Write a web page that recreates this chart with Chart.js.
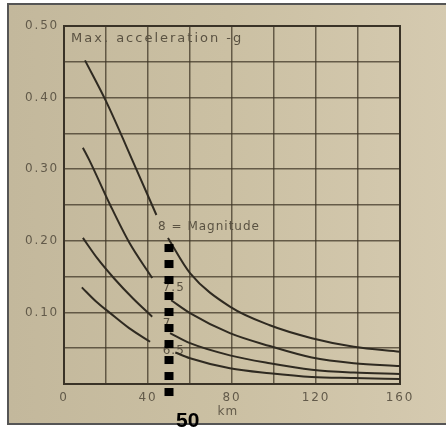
<!DOCTYPE html>
<html>
<head>
<meta charset="utf-8">
<script src="https://cdn.jsdelivr.net/npm/chart.js@4.4.1/dist/chart.umd.min.js"></script>
<style>
  body { margin: 0; background: #fff; }
  #frame {
    position: absolute; left: 7px; top: 3px; width: 439px; height: 418px;
    border: 2px solid #555; border-right: none;
    background: linear-gradient(90deg, #c3b89c 0%, #cbc0a3 50%, #d5cab0 100%);
  }
  #resultChart { position: absolute; left: 0; top: 0; }
</style>
</head>
<body>
<div id="frame"></div>
<canvas id="resultChart" width="446" height="432"></canvas>
<script>
// distance (km) and max acceleration (g); null = gap for the label
var kmM8 = [10, 20, 34, 44, 47, 49.5, 60, 79, 98, 118, 138, 160];
var gM8 = [0.452, 0.395, 0.303, 0.236, null, 0.204, 0.155, 0.108, 0.082, 0.064, 0.052, 0.045];

var kmM75 = [9, 12, 22, 31, 42, 46, 51, 60, 79, 98, 118, 138, 160];
var gM75 = [0.33, 0.313, 0.25, 0.198, 0.148, null, 0.117, 0.099, 0.071, 0.053, 0.037, 0.029, 0.025];

var kmM7 = [9, 16, 24, 33, 42, 46, 50.5, 60, 79, 98, 118, 138, 160];
var gM7 = [0.204, 0.175, 0.147, 0.119, 0.094, null, 0.071, 0.057, 0.04, 0.029, 0.02, 0.016, 0.014];

var kmM65 = [8.5, 15, 22, 31, 41, 47, 53, 60, 79, 98, 118, 138, 160];
var gM65 = [0.135, 0.116, 0.099, 0.078, 0.059, null, 0.044, 0.036, 0.022, 0.015, 0.0098, 0.0084, 0.007];

var curveLabels = ["8 = Magnitude", "7.5", "7", "6.5"];
var labelKm = [44.8, 47, 47, 47];
var labelG = [0.219, 0.134, 0.084, 0.046];

// highlighted distance
var markerKm = 50;
var markerG = [0.1955, -0.017];

var xTickLabels = ["0", "40", "80", "120", "160"];
var yTickLabels = ["0.10", "0.20", "0.30", "0.40", "0.50"];

function toPoints(xs, ys) {
    return xs.map(function (x, i) { return { x: x, y: ys[i] }; });
}

var ink = "#2f2a21";
var textGrey = "#625a4a";
var gridColor = "rgba(60, 50, 35, 0.72)";

function curve(xs, ys) {
    return {
        data: toPoints(xs, ys),
        borderColor: ink,
        borderWidth: 2,
        pointRadius: 0,
        fill: false,
        spanGaps: false,
        cubicInterpolationMode: "monotone"
    };
}

var paperPlugin = {
    id: "paper",
    beforeDraw: function (chart) {
        chart.ctx.letterSpacing = "1.8px";
    },
    beforeDatasetsDraw: function (chart) {
        var ctx = chart.ctx, a = chart.chartArea;
        var xs = chart.scales.x, ys = chart.scales.y;
        ctx.save();
        // plot frame
        ctx.strokeStyle = "#3a3327";
        ctx.lineWidth = 2;
        ctx.strokeRect(a.left, a.top, a.right - a.left, a.bottom - a.top);
        // title
        ctx.fillStyle = "#5a5242";
        ctx.font = "13px 'DejaVu Sans'";
        ctx.letterSpacing = "2px";
        ctx.textBaseline = "middle";
        ctx.textAlign = "left";
        ctx.fillText("Max. acceleration -g", a.left + 7, a.top + 13);
        // magnitude labels
        ctx.font = "12px 'DejaVu Sans'";
        ctx.letterSpacing = "1px";
        for (var i = 0; i < curveLabels.length; i++) {
            ctx.fillText(curveLabels[i], xs.getPixelForValue(labelKm[i]), ys.getPixelForValue(labelG[i]));
        }
        // axis unit
        ctx.fillStyle = textGrey;
        ctx.font = "12px 'DejaVu Sans'";
        ctx.textAlign = "center";
        ctx.fillText("km", xs.getPixelForValue(78), a.bottom + 28);
        // marker value
        ctx.letterSpacing = "0px";
        ctx.fillStyle = "#000";
        ctx.font = "bold 21px 'Liberation Sans', Arial";
        ctx.textAlign = "left";
        ctx.fillText(String(markerKm), xs.getPixelForValue(markerKm) + 7, a.bottom + 37);
        ctx.restore();
    }
};

var ctx = document.getElementById("resultChart").getContext("2d");

var resultChart = new Chart(ctx, {
    type: "line",
    data: {
        datasets: [
            {
                data: toPoints([markerKm, markerKm], markerG),
                borderColor: "#000",
                borderWidth: 9,
                borderDash: [8, 8],
                pointRadius: 0,
                clip: false
            },
            curve(kmM8, gM8),
            curve(kmM75, gM75),
            curve(kmM7, gM7),
            curve(kmM65, gM65)
        ]
    },
    options: {
        responsive: false,
        animation: false,
        layout: { padding: { top: 26, right: 46, left: 0, bottom: 0 } },
        plugins: {
            legend: { display: false },
            tooltip: { enabled: false }
        },
        scales: {
            x: {
                type: "linear",
                min: 0,
                max: 160,
                afterFit: function (scale) { scale.height = 48; },
                ticks: {
                    stepSize: 20,
                    autoSkip: false,
                    maxRotation: 0,
                    padding: 7,
                    color: textGrey,
                    font: { size: 12, family: "'DejaVu Sans'" },
                    callback: function (value) {
                        var s = String(value);
                        return xTickLabels.indexOf(s) >= 0 ? s : "";
                    }
                },
                grid: { color: gridColor, lineWidth: 1.5, drawTicks: false },
                border: { color: "#3a3327", width: 2 }
            },
            y: {
                min: 0,
                max: 0.5,
                afterFit: function (scale) { scale.width = 64; },
                ticks: {
                    stepSize: 0.05,
                    autoSkip: false,
                    padding: 5,
                    color: textGrey,
                    font: { size: 12, family: "'DejaVu Sans'" },
                    callback: function (value) {
                        var s = value.toFixed(2);
                        return yTickLabels.indexOf(s) >= 0 ? s : "";
                    }
                },
                grid: { color: gridColor, lineWidth: 1.5, drawTicks: false },
                border: { color: "#3a3327", width: 2 }
            }
        }
    },
    plugins: [paperPlugin]
});
</script>
</body>
</html>
